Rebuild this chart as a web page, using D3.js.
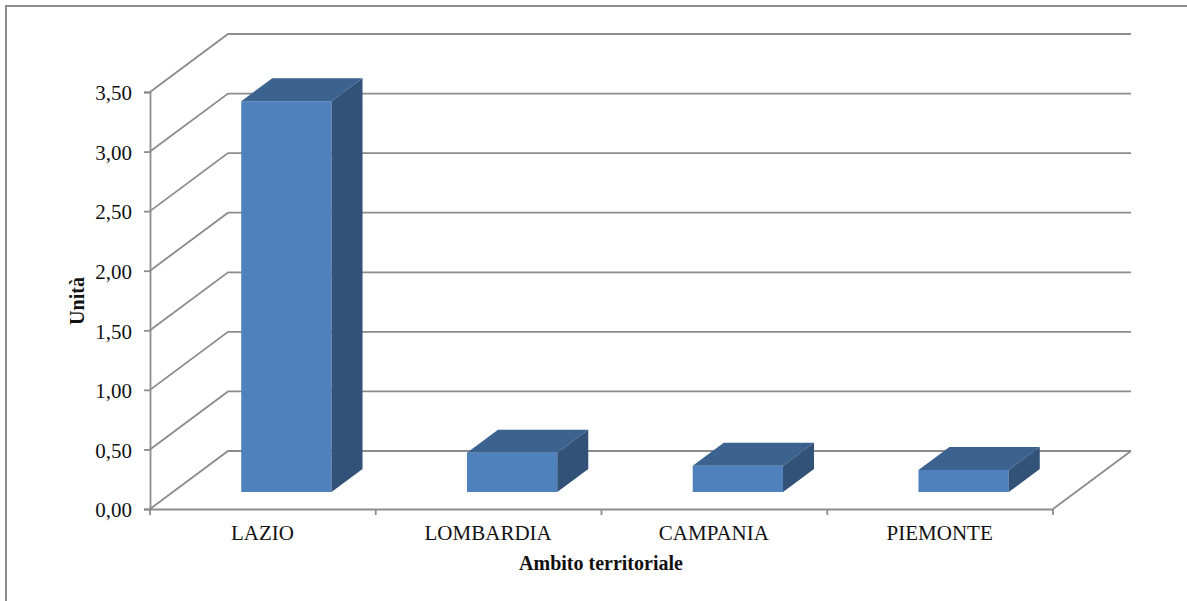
<!DOCTYPE html>
<html>
<head>
<meta charset="utf-8">
<script src="https://cdn.jsdelivr.net/npm/d3@7"></script>
<style>
  html, body { margin: 0; padding: 0; background: #fff; }
  svg { display: block; }
  text { font-family: "Liberation Serif", serif; fill: #111; }
</style>
</head>
<body>
<svg></svg>
<script>
const categories = ['LAZIO', 'LOMBARDIA', 'CAMPANIA', 'PIEMONTE'];
const values = [3.28, 0.33, 0.22, 0.185];
const yTicks = [0, 0.5, 1, 1.5, 2, 2.5, 3, 3.5];
const xTitle = 'Ambito territoriale';
const yTitle = 'Unità';

const size = {w: 1187, h: 601};
const plot = {l: 150, r: 1053, t: 92, b: 509};
const wall = {dx: 78, dy: -58};   // depth of the floor / back wall
const barShift = {dx: 23.5, dy: -17};  // bars sit part way into the floor
const barDepth = {dx: 31, dy: -23};
const grey = '#8c8c8c';

const svg = d3.select('svg')
    .attr('width', size.w)
    .attr('height', size.h);

// outer frame, the right and bottom edges are cut off in the picture
svg.append('path')
    .attr('d', 'M6,' + size.h + 'V6H' + size.w)
    .attr('fill', 'none')
    .attr('stroke', grey)
    .attr('stroke-width', 2);

const y = d3.scaleLinear().domain([0, 3.5]).range([plot.b, plot.t]);
const x = d3.scaleBand().domain(categories).range([plot.l, plot.r]).paddingInner(0.6).paddingOuter(0.3);

// grid on the back wall and side wall
const grid = svg.append('g')
    .attr('fill', 'none')
    .attr('stroke', grey)
    .attr('stroke-width', 1.8);

grid.selectAll('path')
    .data(yTicks)
    .join('path')
    .attr('d', d => 'M' + plot.l + ',' + y(d)
        + 'L' + (plot.l + wall.dx) + ',' + (y(d) + wall.dy)
        + 'H' + (plot.r + wall.dx));

// right edge of the floor
grid.append('path')
    .attr('d', 'M' + plot.r + ',' + plot.b + 'L' + (plot.r + wall.dx) + ',' + (plot.b + wall.dy));

// axes
const yAxis = d3.axisLeft(y)
    .tickValues(yTicks)
    .tickSize(6)
    .tickPadding(12)
    .tickFormat(d => d3.format('.2f')(d).replace('.', ','));

const xAxis = d3.axisBottom(x)
    .tickSize(0)
    .tickPadding(16);

const yG = svg.append('g')
    .attr('transform', 'translate(' + plot.l + ',0)')
    .call(yAxis);

yG.selectAll('.tick text').attr('y', 1);

const xG = svg.append('g')
    .attr('transform', 'translate(0,' + plot.b + ')')
    .call(xAxis);

// category labels are centred on the band, not on the shifted bar
xG.selectAll('.tick').attr('transform', d => 'translate(' + (x(d) + x.bandwidth() / 2 - 0.5) + ',0)');

// tick marks between the categories
const step = (plot.r - plot.l) / categories.length;
xG.selectAll('line.sep')
    .data(d3.range(categories.length + 1))
    .join('line')
    .attr('class', 'sep')
    .attr('x1', i => plot.l + i * step)
    .attr('x2', i => plot.l + i * step)
    .attr('y1', 0)
    .attr('y2', 6);

svg.selectAll('.domain, .tick line, line.sep')
    .attr('stroke', grey)
    .attr('stroke-width', 1.8);

svg.selectAll('.tick text')
    .style('font-family', '"Liberation Serif", serif')
    .style('font-size', '21px')
    .attr('fill', '#111');

// bars: front, top and side faces
const bars = svg.selectAll('g.bar')
    .data(categories.map((c, i) => ({cat: c, val: values[i]})))
    .join('g')
    .attr('class', 'bar')
    .attr('transform', 'translate(' + barShift.dx + ',' + barShift.dy + ')');

bars.append('rect')
    .attr('x', d => x(d.cat))
    .attr('y', d => y(d.val))
    .attr('width', x.bandwidth())
    .attr('height', d => y(0) - y(d.val))
    .attr('fill', '#4f81bd');

bars.append('path')
    .attr('fill', '#3c6290')
    .attr('d', d => {
        const x0 = x(d.cat), x1 = x0 + x.bandwidth(), t = y(d.val);
        return 'M' + x0 + ',' + t + 'L' + (x0 + barDepth.dx) + ',' + (t + barDepth.dy)
            + 'H' + (x1 + barDepth.dx) + 'L' + x1 + ',' + t + 'Z';
    });

bars.append('path')
    .attr('fill', '#325278')
    .attr('d', d => {
        const x1 = x(d.cat) + x.bandwidth(), t = y(d.val), b = y(0);
        return 'M' + x1 + ',' + t + 'L' + (x1 + barDepth.dx) + ',' + (t + barDepth.dy)
            + 'V' + (b + barDepth.dy) + 'L' + x1 + ',' + b + 'Z';
    });

// axis titles
svg.append('text')
    .attr('x', 601)
    .attr('y', 570)
    .attr('text-anchor', 'middle')
    .attr('font-size', 20)
    .attr('font-weight', 'bold')
    .text(xTitle);

svg.append('text')
    .attr('transform', 'translate(84,301) rotate(-90)')
    .attr('text-anchor', 'middle')
    .attr('font-size', 20)
    .attr('font-weight', 'bold')
    .text(yTitle);
</script>
</body>
</html>
